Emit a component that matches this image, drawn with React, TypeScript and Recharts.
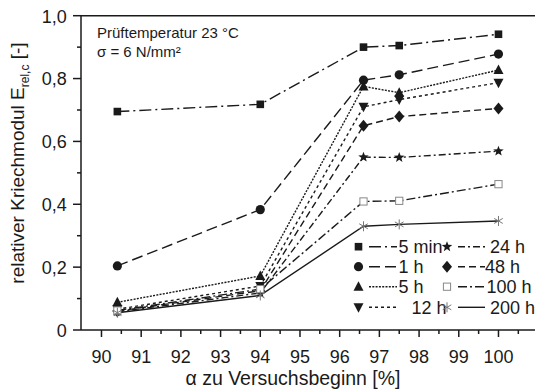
import { LineChart, Line, XAxis, YAxis, ReferenceLine } from 'recharts';

// alpha at test start [%]
const alpha = [90.4, 94, 96.6, 97.5, 100];

// relative creep modulus per load duration
const min5 = [0.695, 0.718, 0.9, 0.905, 0.941];
const h1 = [0.204, 0.383, 0.795, 0.812, 0.878];
const h5 = [0.088, 0.172, 0.775, 0.755, 0.827];
const h12 = [0.066, 0.14, 0.71, 0.733, 0.787];
const h24 = [0.058, 0.118, 0.55, 0.549, 0.569];
const h48 = [0.06, 0.125, 0.65, 0.679, 0.705];
const h100 = [0.062, 0.13, 0.409, 0.411, 0.464];
const h200 = [0.055, 0.11, 0.33, 0.336, 0.347];

const seriesNames = ['5 min', '1 h', '5 h', '12 h', '24 h', '48 h', '100 h', '200 h'];
const seriesValues = [min5, h1, h5, h12, h24, h48, h100, h200];

const xTicks = [90, 91, 92, 93, 94, 95, 96, 97, 98, 99, 100];
const xMinorTicks = [90.5, 91.5, 92.5, 93.5, 94.5, 95.5, 96.5, 97.5, 98.5, 99.5, 100.5];
const yTicks = [0, 0.2, 0.4, 0.6, 0.8, 1];
const yMinorTicks = [0.1, 0.3, 0.5, 0.7, 0.9];

const FONT = 'Arial, "Liberation Sans", Helvetica, sans-serif';
const INK = '#1a1a1a';

type Shape = 'square' | 'circle' | 'triUp' | 'triDown' | 'star' | 'diamond' | 'openSquare' | 'asterisk';

const styles: { shape: Shape; dash?: string }[] = [
  { shape: 'square', dash: '12 4 2 4' },
  { shape: 'circle', dash: '11 5' },
  { shape: 'triUp', dash: '2 1.3' },
  { shape: 'triDown', dash: '3 3' },
  { shape: 'star', dash: '7 3 2 3' },
  { shape: 'diamond', dash: '7 4' },
  { shape: 'openSquare', dash: '9 3 2 3' },
  { shape: 'asterisk' },
];

// legend placement
const legendRows = [246.7, 266.7, 286.7, 307.3];
const legendCols = [
  { marker: 358.5, x1: 369, x2: 397, text: [398.5, 398.5, 398.5, 411.5] },
  { marker: 447, x1: 458, x2: 485, text: [490, 485, 486.5, 490] },
];

const data = alpha.map((a, i) => {
  const row: Record<string, number> = { a };
  seriesValues.forEach((vals, s) => {
    row[`s${s}`] = vals[i];
  });
  return row;
});

function starPoints(cx: number, cy: number, ro: number, ri: number) {
  const pts: string[] = [];
  for (let k = 0; k < 10; k++) {
    const r = k % 2 === 0 ? ro : ri;
    const ang = -Math.PI / 2 + (k * Math.PI) / 5;
    pts.push(`${cx + r * Math.cos(ang)},${cy + r * Math.sin(ang)}`);
  }
  return pts.join(' ');
}

function Marker({ shape, cx, cy }: { shape: Shape; cx: number; cy: number }) {
  switch (shape) {
    case 'square':
      return <rect x={cx - 3.8} y={cy - 3.8} width={7.6} height={7.6} fill={INK} />;
    case 'circle':
      return <circle cx={cx} cy={cy} r={4.6} fill={INK} />;
    case 'triUp':
      return <polygon points={`${cx},${cy - 5.5} ${cx + 5},${cy + 4} ${cx - 5},${cy + 4}`} fill={INK} />;
    case 'triDown':
      return <polygon points={`${cx - 5},${cy - 4} ${cx + 5},${cy - 4} ${cx},${cy + 5.5}`} fill={INK} />;
    case 'star':
      return <polygon points={starPoints(cx, cy, 5.5, 2.3)} fill={INK} />;
    case 'diamond':
      return <polygon points={`${cx},${cy - 6} ${cx + 5},${cy} ${cx},${cy + 6} ${cx - 5},${cy}`} fill={INK} />;
    case 'openSquare':
      return <rect x={cx - 3.6} y={cy - 3.6} width={7.2} height={7.2} fill="#fff" stroke="#888" strokeWidth={1} />;
    case 'asterisk':
      return (
        <g stroke="#777" strokeWidth={1}>
          <line x1={cx} y1={cy - 5} x2={cx} y2={cy + 5} />
          <line x1={cx - 4.3} y1={cy - 2.5} x2={cx + 4.3} y2={cy + 2.5} />
          <line x1={cx - 4.3} y1={cy + 2.5} x2={cx + 4.3} y2={cy - 2.5} />
        </g>
      );
  }
  return null;
}

const isMajor = (list: number[], v: number) => list.some((t) => Math.abs(t - v) < 1e-6);

function XTick(props: any) {
  const { x, y, payload } = props;
  const major = isMajor(xTicks, payload.value);
  return (
    <g>
      <line x1={x} y1={y} x2={x} y2={y + (major ? 7 : 4)} stroke={INK} strokeWidth={1.5} />
      {major && (
        <text x={x} y={y + 33} textAnchor="middle" fontSize={18} fontFamily={FONT} fill={INK}>
          {payload.value}
        </text>
      )}
    </g>
  );
}

function YTick(props: any) {
  const { x, y, payload } = props;
  const major = isMajor(yTicks, payload.value);
  const label = payload.value === 0 ? '0' : payload.value.toFixed(1).replace('.', ',');
  return (
    <g>
      <line x1={x} y1={y} x2={x - (major ? 8 : 4)} y2={y} stroke={INK} strokeWidth={1.5} />
      {major && (
        <text x={x - 14.3} y={y + 6.8} textAnchor="end" fontSize={18} fontFamily={FONT} fill={INK}>
          {label}
        </text>
      )}
    </g>
  );
}

export default function App() {
  const allX = [...xTicks, ...xMinorTicks].sort((p, q) => p - q);
  const allY = [...yTicks, ...yMinorTicks].sort((p, q) => p - q);

  return (
    <div style={{ position: 'absolute', left: 0, top: 0, width: 535, height: 392, background: '#fff', fontFamily: FONT }}>
      <LineChart width={535} height={392} data={data} margin={{ top: 15.7, right: 0, bottom: 22, left: 0 }}>
        <XAxis
          dataKey="a"
          type="number"
          domain={[89.484, 100.92]}
          ticks={allX}
          interval={0}
          tickSize={0}
          tickMargin={0}
          tickLine={false}
          tick={<XTick />}
          height={40}
          axisLine={{ stroke: INK, strokeWidth: 1.5 }}
        />
        <YAxis
          type="number"
          domain={[0, 1]}
          ticks={allY}
          interval={0}
          tickSize={0}
          tickMargin={0}
          tickLine={false}
          tick={<YTick />}
          width={81}
          axisLine={{ stroke: INK, strokeWidth: 1.5 }}
        />
        <ReferenceLine y={1} stroke={INK} strokeWidth={1.5} />
        {seriesNames.map((name, s) => (
          <Line
            key={name}
            dataKey={`s${s}`}
            name={name}
            stroke={INK}
            strokeWidth={1.4}
            strokeDasharray={styles[s].dash}
            isAnimationActive={false}
            dot={(p: any) => <Marker key={`${name}-${p.index}`} shape={styles[s].shape} cx={p.cx} cy={p.cy} />}
            activeDot={false}
          />
        ))}
      </LineChart>

      <svg width={535} height={392} style={{ position: 'absolute', left: 0, top: 0, pointerEvents: 'none' }}>
        <text x={97} y={37.5} fontSize={15} fontFamily={FONT} fill={INK}>
          Prüftemperatur 23 °C
        </text>
        <text x={97} y={57} fontSize={15} fontFamily={FONT} fill={INK}>
          σ = 6 N/mm²
        </text>

        <text x={293} y={385} textAnchor="middle" fontSize={19.5} fontFamily={FONT} fill={INK}>
          α zu Versuchsbeginn [%]
        </text>

        <text
          transform="translate(24, 163) rotate(-90)"
          textAnchor="middle"
          fontSize={19}
          fontFamily={FONT}
          fill={INK}
        >
          relativer Kriechmodul E
          <tspan fontSize={12} dy={5}>rel,c</tspan>
          <tspan dy={-5}> [-]</tspan>
        </text>

        {seriesNames.map((name, s) => {
          const col = legendCols[Math.floor(s / 4)];
          const r = s % 4;
          const cy = legendRows[r];
          return (
            <g key={name}>
              <Marker shape={styles[s].shape} cx={col.marker} cy={cy} />
              <line x1={col.x1} y1={cy} x2={col.x2} y2={cy} stroke={INK} strokeWidth={1.4} strokeDasharray={styles[s].dash} />
              <text x={col.text[r]} y={cy + 6.5} fontSize={18} fontFamily={FONT} fill={INK}>
                {name}
              </text>
            </g>
          );
        })}
      </svg>
    </div>
  );
}
